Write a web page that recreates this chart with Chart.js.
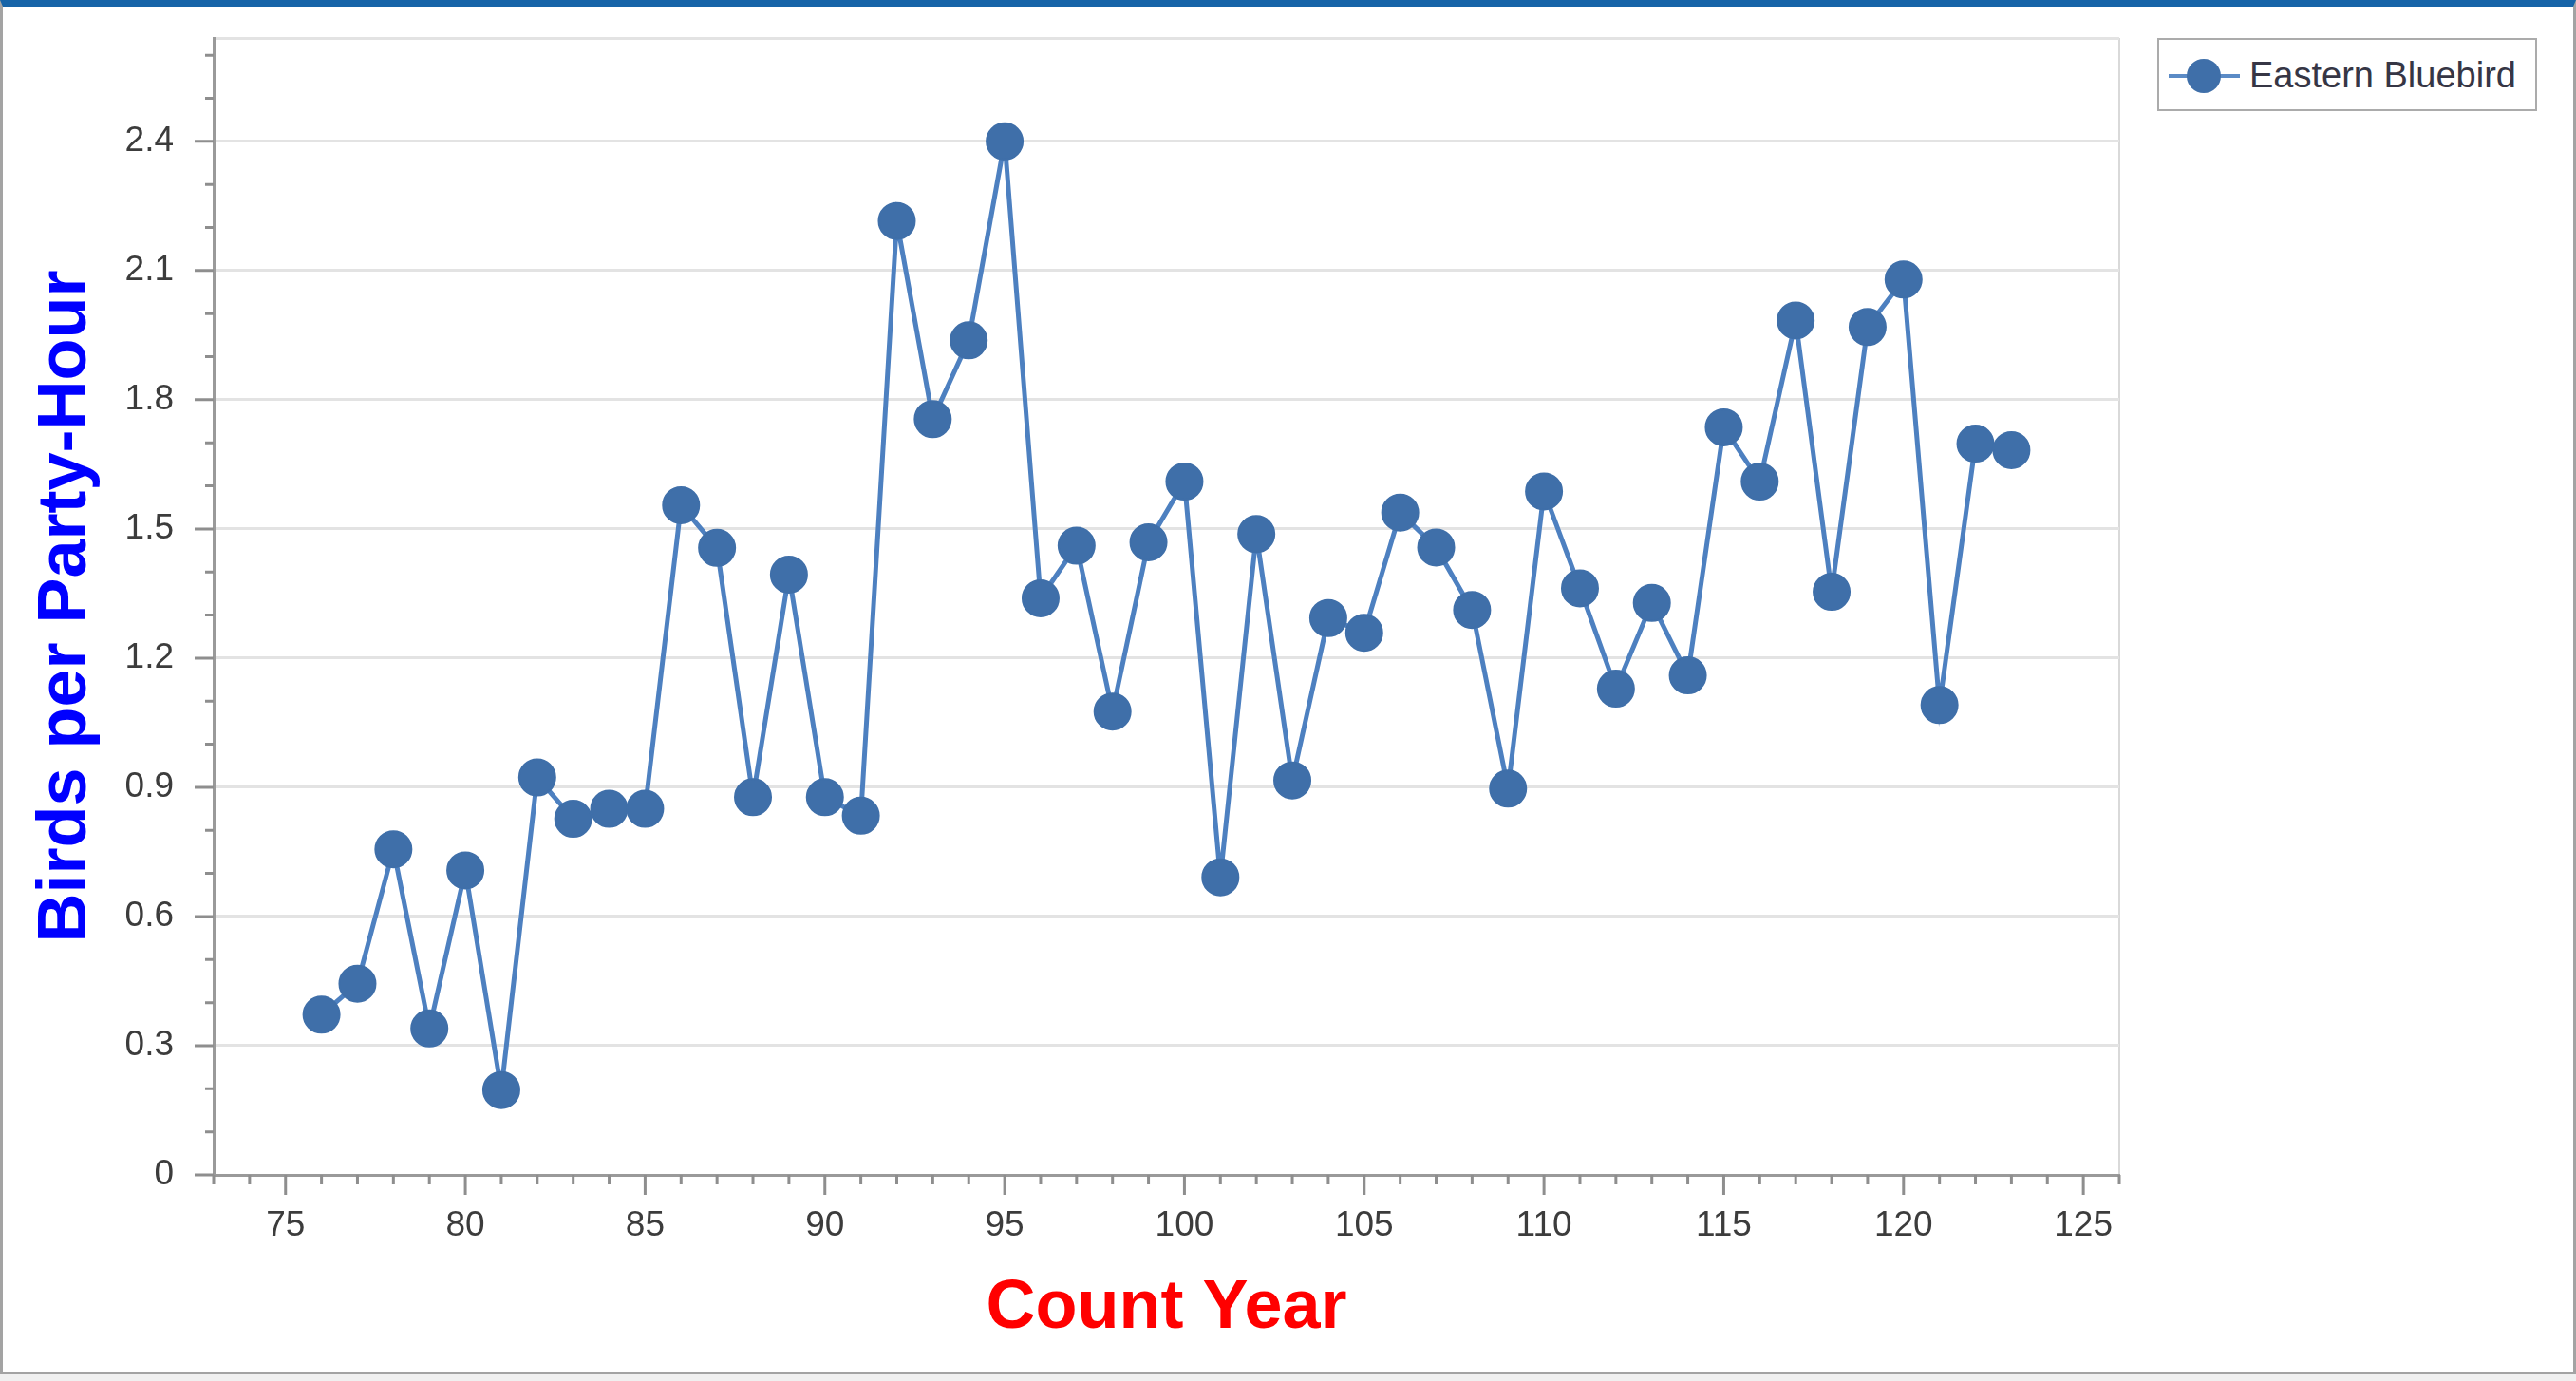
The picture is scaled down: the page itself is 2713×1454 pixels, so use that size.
<!DOCTYPE html>
<html>
<head>
<meta charset="utf-8">
<script src="https://cdn.jsdelivr.net/npm/chart.js@4.4.1/dist/chart.umd.min.js"></script>
<style>
  html, body { margin: 0; padding: 0; background: #f0f0f0; }
  #frame {
    position: absolute; left: 0; top: 0;
    width: 2707px; height: 1437px;
    background: #fff;
    border: 3px solid #a3a3a3;
    border-top: 7px solid #1764a8;
  }
  #wrap { position: absolute; left: 0; top: 0; width: 2713px; height: 1454px; }
  #legend {
    position: absolute; left: 2272px; top: 40px;
    width: 396px; height: 73px;
    border: 2px solid #ababab;
    background: #fff;
    font-family: "Liberation Sans", Arial, sans-serif;
    font-size: 38px; color: #363645;
  }
  #legend svg { position: absolute; left: 8px; top: 16px; }
  #legend span { position: absolute; left: 95px; top: 16px; white-space: nowrap; }
</style>
</head>
<body>
<div id="frame"></div>
<div id="wrap"><canvas id="myChart" width="2713" height="1454"></canvas></div>
<div id="legend">
  <svg width="80" height="44"><line x1="2" y1="22" x2="77" y2="22" stroke="#5b8bc6" stroke-width="4"/><circle cx="39" cy="22" r="18" fill="#3f6fa9"/></svg>
  <span>Eastern Bluebird</span>
</div>
<script>
// Christmas Bird Count, Eastern Bluebird
const seriesName = 'Eastern Bluebird';
const countYears = [76, 77, 78, 79, 80, 81, 82, 83, 84, 85, 86, 87, 88, 89, 90, 91,
  92, 93, 94, 95, 96, 97, 98, 99, 100, 101, 102, 103, 104, 105, 106, 107,
  108, 109, 110, 111, 112, 113, 114, 115, 116, 117, 118, 119, 120, 121, 122, 123];
const birdsPerHour = [0.372, 0.444, 0.756, 0.340, 0.707, 0.197, 0.923, 0.827, 0.850, 0.850, 1.555, 1.456, 0.877, 1.394, 0.877, 0.834,
  2.215, 1.755, 1.938, 2.400, 1.339, 1.461, 1.076, 1.469, 1.610, 0.691, 1.488, 0.916, 1.293, 1.259, 1.538, 1.457,
  1.312, 0.897, 1.587, 1.362, 1.129, 1.328, 1.160, 1.736, 1.610, 1.984, 1.354, 1.969, 2.079, 1.091, 1.698, 1.683];
const xTickLabels = ['75', '80', '85', '90', '95', '100', '105', '110', '115', '120', '125'];
const yTickLabels = ['0', '0.3', '0.6', '0.9', '1.2', '1.5', '1.8', '2.1', '2.4'];
const yMinorTicks = [0, 0.1, 0.2, 0.3, 0.4, 0.5, 0.6, 0.7, 0.8, 0.9, 1.0, 1.1, 1.2, 1.3,
  1.4, 1.5, 1.6, 1.7, 1.8, 1.9, 2.0, 2.1, 2.2, 2.3, 2.4, 2.5, 2.6];

const xMin = 73, xMax = 126, yMax = 2.64;

function yLabel(v) {
  const s = (Math.round(v * 10) / 10).toString();
  return yTickLabels.includes(s) && Math.abs(v - parseFloat(s)) < 1e-6 ? s : '';
}

// minor / major tick marks outside the plot area
const tickMarks = {
  id: 'tickMarks',
  afterDraw(chart) {
    const {ctx, chartArea: a, scales: {x, y}} = chart;
    ctx.save();
    ctx.strokeStyle = '#8e8e8e';
    ctx.lineWidth = 3;
    ctx.beginPath();
    x.ticks.forEach(t => {
      const px = x.getPixelForValue(t.value);
      const len = xTickLabels.includes(String(t.value)) ? 21 : 10;
      ctx.moveTo(px, a.bottom);
      ctx.lineTo(px, a.bottom + len);
    });
    y.ticks.forEach(t => {
      if (!yMinorTicks.some(m => Math.abs(m - t.value) < 1e-6)) return;
      const py = y.getPixelForValue(t.value);
      const len = yLabel(t.value) !== '' ? 20 : 9;
      ctx.moveTo(a.left - len, py);
      ctx.lineTo(a.left, py);
    });
    ctx.stroke();
    ctx.restore();
  }
};

const tickFont = {family: '"Liberation Sans", Arial, sans-serif', size: 37};
const titleFont = {family: '"Liberation Sans", Arial, sans-serif', size: 72, weight: 'bold'};

window.ctx = new Chart(document.getElementById('myChart'), {
  type: 'line',
  data: {
    datasets: [{
      label: seriesName,
      data: countYears.map((yr, i) => ({x: yr, y: birdsPerHour[i]})),
      borderColor: '#4d80c0',
      borderWidth: 5,
      backgroundColor: '#3f6fa9',
      pointBackgroundColor: '#3f6fa9',
      pointBorderColor: '#3f6fa9',
      pointBorderWidth: 2,
      pointRadius: 19,
      tension: 0
    }]
  },
  options: {
    responsive: false,
    animation: false,
    layout: {padding: {left: 0, top: 40, right: 481, bottom: 10}},
    plugins: {
      legend: {display: false},
      tooltip: {enabled: false}
    },
    scales: {
      x: {
        type: 'linear',
        min: xMin,
        max: xMax,
        afterFit: s => { s.height = 207; },
        ticks: {
          stepSize: 1,
          autoSkip: false,
          maxRotation: 0,
          padding: 32,
          color: '#3c3c3c',
          font: tickFont,
          callback: v => xTickLabels.includes(String(v)) ? String(v) : ''
        },
        grid: {
          drawTicks: false,
          lineWidth: 2,
          color: c => c.tick && c.tick.value === xMax ? '#d9d9d9' : 'rgba(0,0,0,0)'
        },
        border: {color: '#9a9a9a', width: 3},
        title: {
          display: true,
          text: 'Count Year',
          color: '#ff0000',
          font: titleFont,
          padding: {top: 0, bottom: 23}
        }
      },
      y: {
        type: 'linear',
        min: 0,
        max: yMax,
        afterFit: s => {
          s.width = 225;
          s.paddingTop = 0;
          s.paddingBottom = 0;
        },
        afterBuildTicks: s => {
          s.ticks = yMinorTicks.map(v => ({value: v})).concat([{value: yMax}]);
        },
        ticks: {
          autoSkip: false,
          padding: 42,
          color: '#3c3c3c',
          font: tickFont,
          callback: v => yLabel(v)
        },
        grid: {
          drawTicks: false,
          lineWidth: 3,
          color: c => {
            if (!c.tick) return 'rgba(0,0,0,0)';
            if (c.tick.value === yMax || yLabel(c.tick.value) !== '') return '#e3e3e3';
            return 'rgba(0,0,0,0)';
          }
        },
        border: {color: '#9a9a9a', width: 3},
        title: {
          display: true,
          text: 'Birds per Party-Hour',
          color: '#0000ff',
          font: titleFont,
          padding: {top: 27, bottom: 0}
        }
      }
    }
  },
  plugins: [tickMarks]
});
</script>
</body>
</html>
